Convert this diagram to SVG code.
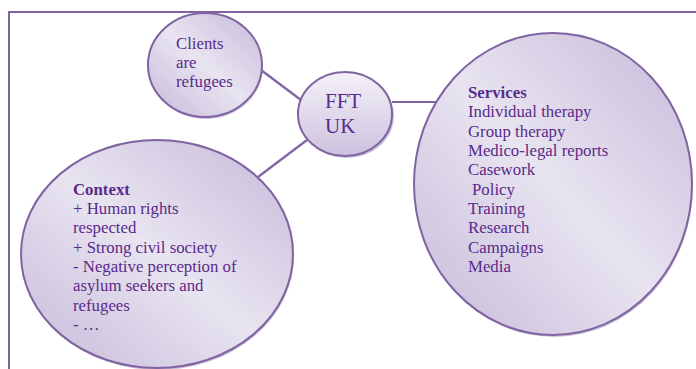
<svg xmlns="http://www.w3.org/2000/svg" width="696" height="369" viewBox="0 0 696 369">
<style>
.node{stroke:#8064a2;stroke-width:2}
.shadow{fill:#a898c2;opacity:0.6}
.conn line{stroke:#8064a2;stroke-width:2.2}
text{fill:#5a2a8a}
.t16{font-size:16.8px}
.b{font-weight:bold}
</style>
<defs>
<linearGradient id="gd" x1="0" y1="1" x2="1" y2="0">
<stop offset="0" stop-color="#c6b9da"/>
<stop offset="0.5" stop-color="#e8e4f0"/>
<stop offset="1" stop-color="#c6b9da"/>
</linearGradient>
<linearGradient id="gv" x1="0" y1="0" x2="0" y2="1">
<stop offset="0" stop-color="#f4f1f8"/>
<stop offset="1" stop-color="#cdc2df"/>
</linearGradient>
</defs>
<rect x="9" y="12" width="700" height="370" fill="none" stroke="#8064a2" stroke-width="2"/>
<g id="connectors" class="conn">
<line x1="261" y1="70" x2="301" y2="100"/>
<line x1="307" y1="140" x2="258" y2="177"/>
<line x1="392" y1="102" x2="442" y2="102"/>
</g>
<g font-family="Liberation Serif, DejaVu Serif, serif">
<g id="clients">
<ellipse class="shadow" cx="206" cy="67" rx="57" ry="52"/>
<ellipse class="node" cx="205" cy="65" rx="57" ry="52" fill="url(#gd)"/>
<text class="t16" x="176" y="49">Clients</text>
<text class="t16" x="176" y="68">are</text>
<text class="t16" x="176" y="87">refugees</text>
</g>
<g id="fft">
<ellipse class="shadow" cx="347" cy="116" rx="47" ry="42"/>
<ellipse class="node" cx="345" cy="114" rx="47" ry="42" fill="url(#gv)"/>
<text x="325" y="108" font-size="21">FFT</text>
<text x="325" y="133" font-size="21">UK</text>
</g>
<g id="context">
<ellipse class="shadow" cx="158" cy="256" rx="136" ry="114"/>
<ellipse class="node" cx="157" cy="254" rx="136" ry="114" fill="url(#gd)"/>
<text class="t16 b" x="73" y="195">Context</text>
<text class="t16" x="73" y="214">+ Human rights</text>
<text class="t16" x="73" y="233">respected</text>
<text class="t16" x="73" y="253">+ Strong civil society</text>
<text class="t16" x="73" y="272">- Negative perception of</text>
<text class="t16" x="73" y="291">asylum seekers and</text>
<text class="t16" x="73" y="311">refugees</text>
<text class="t16" x="73" y="330">- …</text>
</g>
<g id="services">
<ellipse class="shadow" cx="554" cy="186" rx="139" ry="151"/>
<ellipse class="node" cx="553" cy="184" rx="139" ry="151" fill="url(#gd)"/>
<text class="t16 b" x="468" y="98">Services</text>
<text class="t16" x="468" y="117">Individual therapy</text>
<text class="t16" x="468" y="137">Group therapy</text>
<text class="t16" x="468" y="156">Medico-legal reports</text>
<text class="t16" x="468" y="175">Casework</text>
<text class="t16" x="472" y="195">Policy</text>
<text class="t16" x="468" y="214">Training</text>
<text class="t16" x="468" y="233">Research</text>
<text class="t16" x="468" y="253">Campaigns</text>
<text class="t16" x="468" y="272">Media</text>
</g>
</g>
</svg>
